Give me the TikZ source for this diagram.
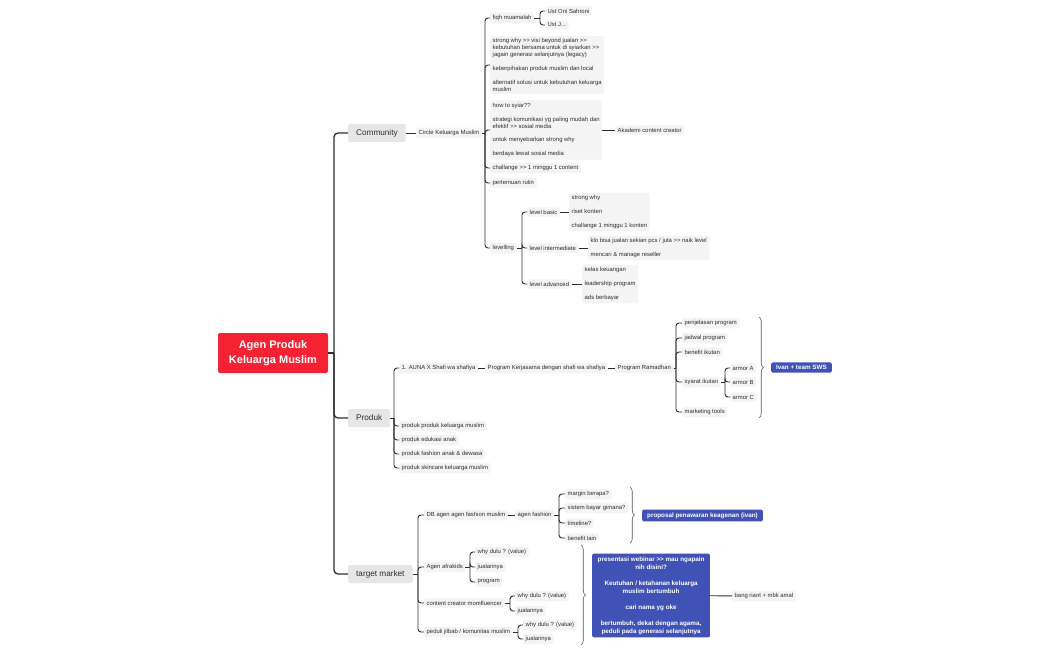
\documentclass[tikz,border=0pt]{standalone}
\usepackage{fontspec}
\setmainfont{Liberation Sans}
\usetikzlibrary{decorations.pathreplacing}
\definecolor{rootred}{RGB}{245,34,52}
\definecolor{sumblue}{RGB}{64,82,182}
\definecolor{linegray}{RGB}{45,45,45}
\definecolor{topicgray}{RGB}{244,244,244}
\definecolor{maingray}{RGB}{230,230,230}

\begin{document}
\begin{tikzpicture}[
  x=1pt, y=-1pt,
  every node/.style = {inner sep=0pt, text=linegray},
  root/.style = {fill=rootred, text=white, rounded corners=2pt, align=center,
    minimum width=110pt, minimum height=40pt,
    font=\fontsize{11}{14.5}\selectfont\bfseries},
  branch/.style = {anchor=west, fill=maingray, rounded corners=2pt,
    inner xsep=8pt, minimum height=18pt, font=\fontsize{8.2}{9}\selectfont},
  topic/.style = {anchor=west, fill=topicgray, rounded corners=1.5pt,
    inner xsep=2.5pt, inner ysep=2.5pt, align=left,
    font=\fontsize{5.9}{6.9}\selectfont},
  summary/.style = {anchor=west, fill=sumblue, text=white, rounded corners=2pt,
    inner xsep=5pt, inner ysep=3pt, align=center,
    font=\fontsize{6.3}{8}\selectfont\bfseries}]
  \tikzstyle{trunk}=[draw=linegray, line width=1.3pt, rounded corners=4pt]
  \tikzstyle{link}=[draw=linegray, line width=0.9pt, rounded corners=3pt]
  \tikzstyle{sumbrace}=[draw=linegray!80, line width=0.6pt, decorate,
    decoration={brace, amplitude=4.5pt}]

  \useasboundingbox[fill=white] (0,0) rectangle (1050,650);

  % root and main branches
  \node[root] (root) at (273,353) {Agen Produk\\Keluarga Muslim};
  \node[branch] (com) at (348,133) {Community};
  \node[branch] (prd) at (348,418) {Produk};
  \node[branch] (tgt) at (348,574) {target market};

  % community
  \node[topic] (circ) at (416,133) {Circle Keluarga Muslim};
  \node[topic] (fiqh) at (490,18) {fiqh muamalah};
  \node[topic] (ust1) at (545,11) {Ust Oni Sahroni};
  \node[topic] (ust2) at (545,25) {Ust J...};
  \node[topic] (why) at (490,65) {strong why >{}> visi beyond jualan >{}>\\kebutuhan bersama untuk di syiarkan >{}>\\jagain generasi selanjutnya (legacy)\\[7pt]keberpihakan produk muslim dan local\\[7pt]alternatif solusi untuk kebutuhan keluarga\\muslim};
  \node[topic] (syiar) at (490,130) {how to syiar??\\[7pt]strategi komunikasi yg paling mudah dan\\efektif >{}> sosial media\\[7pt]untuk menyebarkan strong why\\[7pt]berdaya lewat sosial media};
  \node[topic] (aka) at (615,130) {Akademi content creator};
  \node[topic] (chal) at (490,168) {challange >{}> 1 minggu 1 content};
  \node[topic] (rutin) at (490,183) {pertemuan rutin};
  \node[topic] (lvl) at (490,248) {levelling};
  \node[topic] (basic) at (527,212) {level basic};
  \node[topic] (inter) at (527,248) {level intermediate};
  \node[topic] (adv) at (527,284) {level advanced};
  \node[topic] (basicl) at (569,212) {strong why\\[7pt]riset konten\\[7pt]challange 1 minggu 1 konten};
  \node[topic] (interl) at (588,248) {klo bisa jualan sekian pcs / juta >{}> naik level\\[7pt]mencari \& manage reseller};
  \node[topic] (advl) at (582,284) {kelas keuangan\\[7pt]leadership program\\[7pt]ads berbayar};

  % produk
  \node[topic] (auna) at (399,368) {1. AUNA X Shafi wa shafiya};
  \node[topic] (p1) at (399,426) {produk produk keluarga muslim};
  \node[topic] (p2) at (399,440) {produk edukasi anak};
  \node[topic] (p3) at (399,454) {produk fashion anak \& dewasa};
  \node[topic] (p4) at (399,468) {produk skincare keluarga muslim};
  \node[topic] (kerja) at (485,368) {Program Kerjasama dengan shafi wa shafiya};
  \node[topic] (ram) at (615,368) {Program Ramadhan};
  \node[topic] (pj) at (682,323) {penjelasan program};
  \node[topic] (jd) at (682,338) {jadwal program};
  \node[topic] (bn) at (682,352) {benefit ikutan};
  \node[topic] (sy) at (682,382) {syarat ikutan};
  \node[topic] (mt) at (682,412) {marketing tools};
  \node[topic] (arA) at (730,368) {armor A};
  \node[topic] (arB) at (730,382) {armor B};
  \node[topic] (arC) at (730,397) {armor C};
  \node[summary] (ivan) at (771,367.5) {Ivan + team SWS};

  % target market
  \node[topic] (db) at (424,515) {DB agen agen fashion muslim};
  \node[topic] (afra) at (424,567) {Agen afrakids};
  \node[topic] (mom) at (424,603) {content creator momfluencer};
  \node[topic] (jil) at (424,632) {peduli jilbab / komunitas muslim};
  \node[topic] (agf) at (515,515) {agen fashion};
  \node[topic] (mg) at (565,494) {margin berapa?};
  \node[topic] (sb) at (565,508) {sistem bayar gimana?};
  \node[topic] (tl) at (565,523) {timeline?};
  \node[topic] (bl) at (565,538) {benefit lain};
  \node[topic] (w1) at (475,552) {why dulu ? (value)};
  \node[topic] (j1) at (475,567) {jualannya};
  \node[topic] (pr) at (475,582) {program};
  \node[topic] (w2) at (515,596) {why dulu ? (value)};
  \node[topic] (j2) at (515,611) {jualannya};
  \node[topic] (w3) at (523,625) {why dulu ? (value)};
  \node[topic] (j3) at (523,639) {jualannya};
  \node[summary] (prop) at (642,515.5) {proposal penawaran keagenan (ivan)};
  \node[summary, inner xsep=5.5pt] (web) at (592,595.5) {presentasi webinar >{}> mau ngapain\\nih disini?\\[8pt]Keutuhan / ketahanan keluarga\\muslim bertumbuh\\[8pt]cari nama yg oke\\[8pt]bertumbuh, dekat dengan agama,\\peduli pada generasi selanjutnya};
  \node[topic] (bang) at (732,596) {bang riant + mbk amal};

  % junctions
  \coordinate (rootj) at (334,353);
  \coordinate (circj) at (485,133);
  \coordinate (fiqhj) at (540,18);
  \coordinate (lvlj) at (522,248);
  \coordinate (prdj) at (394,418);
  \coordinate (ramj) at (676,368);
  \coordinate (syj) at (725,382);
  \coordinate (tgtj) at (418,574);
  \coordinate (agfj) at (559,515);
  \coordinate (afraj) at (470,567);
  \coordinate (momj) at (510,603);
  \coordinate (jilj) at (518,632);

  % connectors
  \draw[trunk] (root.east) -- (rootj);
  \foreach \c in {com,prd,tgt} \draw[trunk] (rootj) |- (\c.west);
  \draw[link] (com) -- (circ);
  \draw[link] (circ.east) -- (circj);
  \foreach \c in {fiqh,why,syiar,chal,rutin,lvl} \draw[link] (circj) |- (\c.west);
  \draw[link] (fiqh.east) -- (fiqhj);
  \foreach \c in {ust1,ust2} \draw[link] (fiqhj) |- (\c.west);
  \draw[link] (syiar) -- (aka);
  \draw[link] (lvl.east) -- (lvlj);
  \foreach \c in {basic,inter,adv} \draw[link] (lvlj) |- (\c.west);
  \draw[link] (basic) -- (basicl);
  \draw[link] (inter) -- (interl);
  \draw[link] (adv) -- (advl);

  \draw[link] (prd.east) -- (prdj);
  \foreach \c in {auna,p1,p2,p3,p4} \draw[link] (prdj) |- (\c.west);
  \draw[link] (auna) -- (kerja);
  \draw[link] (kerja) -- (ram);
  \draw[link] (ram.east) -- (ramj);
  \foreach \c in {pj,jd,bn,sy,mt} \draw[link] (ramj) |- (\c.west);
  \draw[link] (sy.east) -- (syj);
  \foreach \c in {arA,arB,arC} \draw[link] (syj) |- (\c.west);

  \draw[link] (tgt.east) -- (tgtj);
  \foreach \c in {db,afra,mom,jil} \draw[link] (tgtj) |- (\c.west);
  \draw[link] (db) -- (agf);
  \draw[link] (agf.east) -- (agfj);
  \foreach \c in {mg,sb,tl,bl} \draw[link] (agfj) |- (\c.west);
  \draw[link] (afra.east) -- (afraj);
  \foreach \c in {w1,j1,pr} \draw[link] (afraj) |- (\c.west);
  \draw[link] (mom.east) -- (momj);
  \foreach \c in {w2,j2} \draw[link] (momj) |- (\c.west);
  \draw[link] (jil.east) -- (jilj);
  \foreach \c in {w3,j3} \draw[link] (jilj) |- (\c.west);
  \draw[link] (web) -- (bang);

  % summary braces
  \coordinate (ba1) at (759,317);
  \coordinate (bb1) at (759,418);
  \coordinate (ba2) at (630,487);
  \coordinate (bb2) at (630,543);
  \coordinate (ba3) at (581,545);
  \coordinate (bb3) at (581,645);
  \draw[sumbrace] (ba1) -- (bb1);
  \draw[sumbrace] (ba2) -- (bb2);
  \draw[sumbrace] (ba3) -- (bb3);
\end{tikzpicture}
\end{document}
